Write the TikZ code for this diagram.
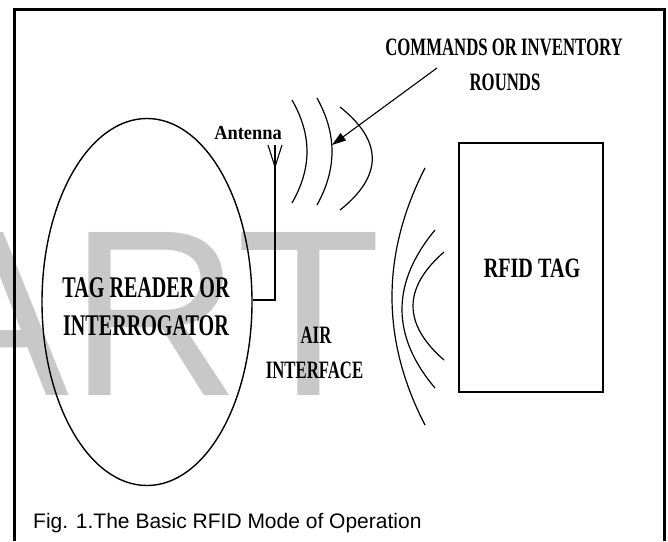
\documentclass[tikz,border=0pt]{standalone}
\usepackage{fontspec}
\usetikzlibrary{arrows.meta,shapes.geometric}
\newfontfamily\lblfont[FakeStretch=0.67]{Liberation Serif}
\newfontfamily\tagfont[FakeStretch=0.72]{Liberation Serif}
\newfontfamily\antfont[FakeStretch=0.92]{Liberation Serif}
\newfontfamily\arialfont{Liberation Sans}
\definecolor{wm}{RGB}{200,200,200}
\begin{document}
\begin{tikzpicture}[x=1pt,y=-1pt,
  lbl/.style={inner sep=0pt, anchor=base, text=black},
  bigfont/.style={font=\lblfont\bfseries\fontsize{30}{38}\selectfont},
  midfont/.style={font=\lblfont\bfseries\fontsize{25}{35}\selectfont},
  wave/.style={line width=1.2pt},
  thin/.style={line width=1.1pt},
  frame/.style={line width=2.6pt}]
\useasboundingbox (0,0) rectangle (668,541);
\fill[white] (0,0) rectangle (668,541);
% watermark
\begin{scope}
  \clip (0,0) rectangle (668,541);
  \node[inner sep=0pt, anchor=base west, text=wm,
        font=\arialfont\fontsize{237}{237}\selectfont] (wmtext) at (-89,395) {ART};
\end{scope}
% frame
\draw[frame] (14.5,541) -- (14.5,9.3) -- (664.5,9.3) -- (664.5,541);
% reader
\node[ellipse, draw, line width=1.4pt, minimum width=210pt, minimum height=367pt,
      inner sep=0pt] (reader) at (147,302) {};
\node[lbl, bigfont] (readerA) at (146,297) {TAG READER OR};
\node[lbl, bigfont] (readerB) at (146,335) {INTERROGATOR};
% antenna
\coordinate (antTop) at (275,145);
\coordinate (antFork) at (275,167);
\coordinate (antBot) at (275,300);
\coordinate (armL) at (268,145);
\coordinate (armR) at (282,145);
\draw[thin] (armL) -- (antFork) -- (armR);
\draw[thin] (antTop) -- (antBot) -- (reader.east |- antBot);
\node[lbl, font=\antfont\bfseries\fontsize{20}{24}\selectfont] (ant) at (248,139) {Antenna};
% reader waves
\draw[wave] (292,100) .. controls (312,135) and (312,168) .. (292,203);
\draw[wave] (317,98) .. controls (337,134) and (337,169) .. (317,205);
\draw[wave] (340,107) .. controls (383,141) and (383,176) .. (340,210);
% commands label and arrow
\node[lbl, midfont] (cmdA) at (504,55) {COMMANDS OR INVENTORY};
\node[lbl, midfont] (cmdB) at (505,90) {ROUNDS};
\coordinate (arrStart) at (437,68);
\coordinate (arrTip) at (332,145);
\draw[thin, -{Triangle[length=14pt,width=9pt]}] (arrStart) -- (arrTip);
% air interface
\node[lbl, midfont] (airA) at (316,343) {AIR};
\node[lbl, midfont] (airB) at (314.5,378) {INTERFACE};
% tag waves
\draw[wave] (425,168) .. controls (381,254) and (381,340) .. (425,425);
\draw[wave] (435,230) .. controls (391,283) and (391,336) .. (435,388);
\draw[wave] (444,252) .. controls (402.7,288) and (402.7,324) .. (444,360);
% tag
\node[draw, line width=1.4pt, minimum width=144pt, minimum height=249pt, inner sep=0pt]
  (tag) at (531,267.5) {};
\node[lbl, font=\tagfont\bfseries\fontsize{28}{34}\selectfont] (tagtext) at (532,277) {RFID TAG};
% caption
\node[inner sep=0pt, anchor=base west, font=\arialfont\fontsize{21}{25}\selectfont]
  (caption) at (33,528) {Fig. 1.The Basic RFID Mode of Operation};
\end{tikzpicture}
\end{document}
